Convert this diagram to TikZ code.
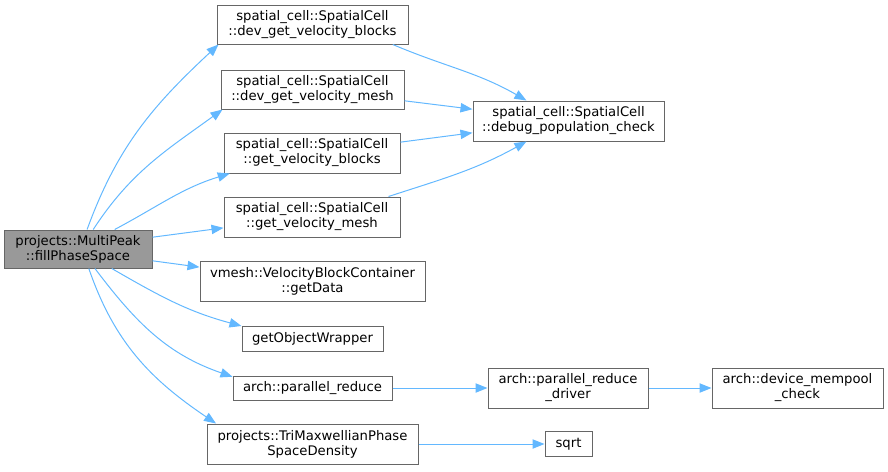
\documentclass[tikz,border=0pt]{standalone}
\usepackage{fontspec}
\setmainfont{DejaVu Sans}
\usetikzlibrary{arrows.meta}

\definecolor{edgeblue}{HTML}{63B8FF}
\definecolor{boxgray}{HTML}{666666}
\definecolor{mainfill}{HTML}{999999}

\begin{document}
\begin{tikzpicture}[x=0.75pt,y=0.75pt,
    fn/.style={draw=boxgray,line width=0.75pt,fill=white,align=center,inner sep=0pt,
      font=\fontsize{9.9}{11.2}\selectfont},
    sz/.style 2 args={minimum width=#1*0.75pt,minimum height=#2*0.75pt},
    call/.style={draw=edgeblue,line width=0.75pt,-{Triangle[length=9pt,width=7pt]}}]
      \useasboundingbox (0,0) rectangle (888,-471);

      \node[fn,fill=mainfill,sz={148}{38}] (main) at (78,-249) {projects::MultiPeak\\::fillPhaseSpace};

      \node[fn,sz={191}{39}] (devb) at (312.5,-24.5) {spatial\_cell::SpatialCell\\::dev\_get\_velocity\_blocks};
      \node[fn,sz={183}{39}] (devm) at (312.5,-89.5) {spatial\_cell::SpatialCell\\::dev\_get\_velocity\_mesh};
      \node[fn,sz={176}{40}] (getb) at (312,-153) {spatial\_cell::SpatialCell\\::get\_velocity\_blocks};
      \node[fn,sz={176}{40}] (getm) at (312,-217) {spatial\_cell::SpatialCell\\::get\_velocity\_mesh};
      \node[fn,sz={191}{40}] (dbg) at (568.5,-121) {spatial\_cell::SpatialCell\\::debug\_population\_check};
      \node[fn,sz={225}{40}] (getd) at (312.5,-281) {vmesh::VelocityBlockContainer\\::getData};
      \node[fn,sz={141}{25}] (gow) at (312.5,-338.5) {getObjectWrapper};
      \node[fn,sz={159}{24}] (pred) at (312.5,-388) {arch::parallel\_reduce};
      \node[fn,sz={211}{40}] (tri) at (312.5,-444) {projects::TriMaxwellianPhase\\SpaceDensity};
      \node[fn,sz={160}{40}] (drv) at (568,-388) {arch::parallel\_reduce\\\_driver};
      \node[fn,sz={171}{40}] (mem) at (797.5,-388) {arch::device\_mempool\\\_check};
      \node[fn,sz={47}{25}] (sqrt) at (568.5,-444) {sqrt};

      \draw[call] (main.65) to[out=70,in=223] ([xshift=1.5]devb.south west);
      \draw[call] (main.52) to[out=57,in=216] ([xshift=1.5]devm.south west);
      \draw[call] (main.28) to[out=28,in=197] (getb.194);
      \draw[call] (main.9) -- (getm.187);
      \draw[call] (main.-9) -- (getd.173);
      \draw[call] (main.-30) to[out=-30,in=165] (gow.170);
      \draw[call] (main.-49) to[out=-53,in=161] (pred.172);
      \draw[call] (main.-61) to[out=-71,in=146] (tri.168);

      \draw[call] (devb.-14) to[out=-23,in=150] (dbg.154);
      \draw[call] (devm.-7) -- (dbg.173);
      \draw[call] (getb.7) -- (dbg.187);
      \draw[call] (getm.15) to[out=18,in=209] (dbg.206);

      \draw[call] (pred) -- (drv);
      \draw[call] (drv) -- (mem);
      \draw[call] (tri) -- (sqrt);
\end{tikzpicture}
\end{document}
